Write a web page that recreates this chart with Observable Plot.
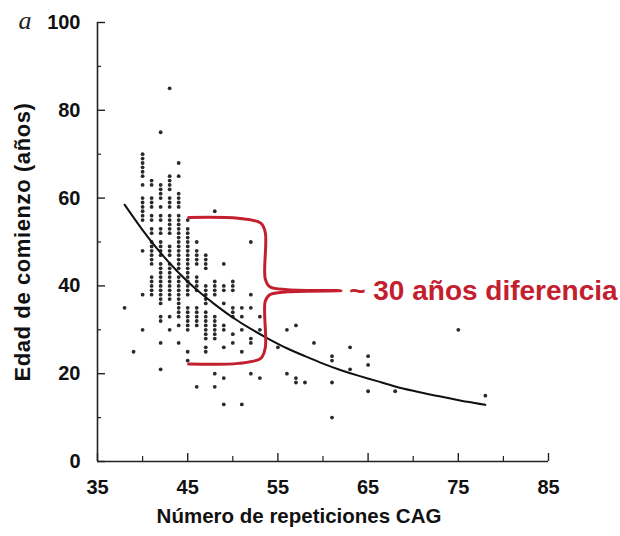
<!DOCTYPE html>
<html><head><meta charset="utf-8">
<script src="https://cdn.jsdelivr.net/npm/d3@7"></script>
<script src="https://cdn.jsdelivr.net/npm/@observablehq/plot@0.6"></script>
<style>body{margin:0;background:#fff} .ytitle text{letter-spacing:0.6px}</style>
</head><body><div id="chart"></div>
<script>
// ---- data ----
const cagColumns = [38,39,40,41,42,43,44,45,46,47,48,49,50,51,52,53,55,56,57,58,59,61,63,65,68,75,78];
const onsetAges = [
  [35],
  [25],
  [70,69,68,67,66,65,63,60,59,58,57,56,55,48,38,30],
  [64,63,60,59,58,56,55,53,52,50,49,48,47,46,45,42,41,40,39,38],
  [75,63,62,61,60,58,56,55,53,52,50,49,48,47,45,44,43,42,41,40,39,38,37,36,33,32,27,21],
  [85,65,64,63,62,60,59,58,56,55,54,53,52,49,48,47,45,44,43,42,41,40,39,38,37,33,30],
  [68,65,61,60,59,58,56,55,54,53,52,51,50,49,48,47,46,45,44,42,41,40,39,38,37,36,35,34,33,31,27],
  [55,53,52,51,50,49,48,47,46,45,44,43,42,41,40,39,38,35,34,33,32,31,30,25,23],
  [50,48,47,46,45,42,41,40,39,35,34,33,32,31,17],
  [47,46,45,44,40,39,38,37,36,34,33,32,31,30,29,28,26,25],
  [57,41,40,39,38,33,32,31,30,29,28,20,17],
  [45,40,39,36,31,30,26,19,13],
  [41,40,39,35,34,33,29,27],
  [35,33,30,25,13],
  [50,38,35,28,27,20],
  [33,30,19],
  [26],
  [30,20],
  [31,19,18],
  [18],
  [27],
  [24,23,18,10],
  [26,21],
  [24,22,16],
  [16],
  [30],
  [15]
];
const fitCag = [38,40,42,44,46,48,50,52,54,56,58,60,62,64,66,68,70,72,74,76,78];
const fitAge = [58.5,52.7,47.5,43.0,39.1,35.8,32.8,30.2,27.9,25.8,24.0,22.3,20.8,19.5,18.3,17.1,16.1,15.2,14.4,13.6,12.9];
const xMajorTicks = [35,45,55,65,75,85];
const xMinorTicks = [40,50,60,70,80];
const yMajorTicks = [0,20,40,60,80,100];
const yMinorTicks = [10,30,50,70,90];
const xTitle = "Número de repeticiones CAG";
const yTitle = "Edad de comienzo (años)";
const panelLabel = "a";
const noteText = "~ 30 años diferencia";
// brace spans ages from braceLow to braceHigh
const braceLow = 22.2, braceHigh = 55.6;
const braceStartCag = 45.1, braceSpineCag = 53.6, braceTipCag = 62;

// ---- build tables ----
const points = cagColumns.flatMap((c, i) => onsetAges[i].map(a => ({cag: c, age: a})));
const fit = fitCag.map((c, i) => ({cag: c, age: fitAge[i]}));
const mid = (braceLow + braceHigh) / 2;
const xs = braceSpineCag;
const brace = [
  [braceStartCag, braceHigh], [xs - 3, braceHigh - 0.2], [xs - 0.5, braceHigh - 1.3], [xs, braceHigh - 3.4],
  [xs, mid + 2.7], [xs + 0.5, mid + 0.9], [xs + 2.5, mid + 0.25], [braceTipCag, mid],
  [xs + 2.5, mid - 0.25], [xs + 0.5, mid - 0.9], [xs, mid - 2.4],
  [xs, braceLow + 3.7], [xs - 0.5, braceLow + 1.3], [xs - 3, braceLow + 0.15], [braceStartCag, braceLow]
].map(([cag, age]) => ({cag, age}));

const red = "#c3202f";
const W = 620, H = 536, mL = 97, mR = 72, mT = 22, mB = 75;
const fw = W - mL - mR, fh = H - mT - mB;

const chart = Plot.plot({
  width: W, height: H,
  marginLeft: mL, marginRight: mR, marginTop: mT, marginBottom: mB,
  x: {domain: [35, 85]},
  y: {domain: [0, 100]},
  style: {fontFamily: "'Liberation Sans', Arial, sans-serif", background: "#fff", color: "#111"},
  marks: [
    Plot.axisX({ticks: xMajorTicks, tickSize: 0, tickPadding: 18, fontSize: 20, fontWeight: "bold", label: null}),
    Plot.axisY({ticks: yMajorTicks, tickSize: 0, tickPadding: 17, fontSize: 20, fontWeight: "bold", label: null}),
    Plot.ruleX([35], {stroke: "#222", strokeWidth: 1.6}),
    Plot.ruleY([0], {stroke: "#222", strokeWidth: 1.6}),
    Plot.ruleY(yMajorTicks, {insetRight: fw - 8, stroke: "#222", strokeWidth: 1.4}),
    Plot.ruleY(yMinorTicks, {insetRight: fw - 4, stroke: "#222", strokeWidth: 1.2}),
    Plot.ruleX(xMajorTicks, {insetTop: fh - 8, stroke: "#222", strokeWidth: 1.4}),
    Plot.ruleX(xMinorTicks, {insetTop: fh - 5, stroke: "#222", strokeWidth: 1.2}),
    Plot.dot(points, {x: "cag", y: "age", r: 1.9, fill: "#2a2a2a", stroke: null}),
    Plot.line(fit, {x: "cag", y: "age", curve: "natural", stroke: "#111", strokeWidth: 2}),
    Plot.line(brace, {x: "cag", y: "age", curve: "catmull-rom", stroke: red, strokeWidth: 3}),
    Plot.text([noteText], {x: braceTipCag + 0.9, y: mid, text: d => d, textAnchor: "start", fill: red, fontSize: 28, fontWeight: "bold"}),
    Plot.text([xTitle], {frameAnchor: "bottom", dx: -24, dy: 61, text: d => d, fontSize: 20.5, fontWeight: "bold", fill: "#111"}),
    Plot.text([yTitle], {frameAnchor: "left", dx: -75, rotate: -90, textAnchor: "middle", text: d => d, fontSize: 22, fontWeight: "bold", fill: "#111", className: "ytitle"}),
    Plot.text([panelLabel], {frameAnchor: "top-left", dx: -79, dy: -2, textAnchor: "start", lineAnchor: "middle", text: d => d, fontSize: 26, fontStyle: "italic", fontFamily: "'Liberation Serif', serif", fill: "#222"})
  ]
});
document.getElementById("chart").append(chart);
</script>
</body></html>
